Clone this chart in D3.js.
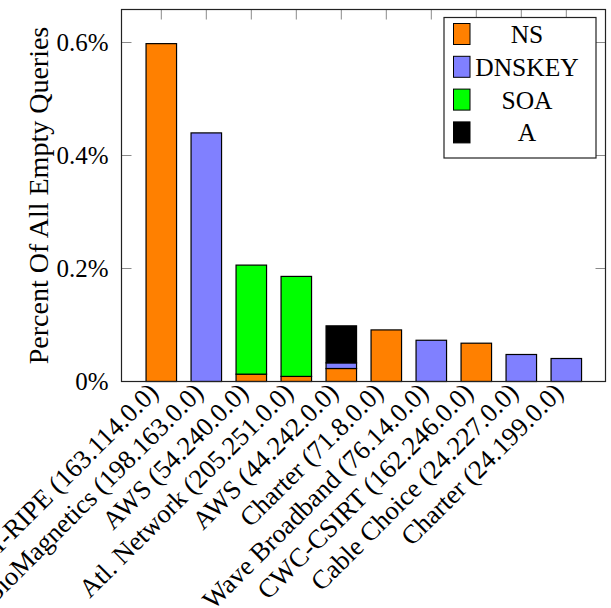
<!DOCTYPE html>
<html>
<head>
<meta charset="utf-8">
<script src="https://cdn.jsdelivr.net/npm/d3@7"></script>
<style>
  html, body { margin: 0; padding: 0; background: #fff; }
  svg { display: block; }
  text { font-family: "Liberation Serif", "Times New Roman", serif; fill: #000; }
</style>
</head>
<body>
<svg id="chart" width="611" height="608"></svg>
<script>
// Networks (x categories)
const categories = [
  "NET-RIPE (163.114.0.0)",
  "BioMagnetics (198.163.0.0)",
  "AWS (54.240.0.0)",
  "Atl. Network (205.251.0.0)",
  "AWS (44.242.0.0)",
  "Charter (71.8.0.0)",
  "Wave Broadband (76.14.0.0)",
  "CWC-CSIRT (162.246.0.0)",
  "Cable Choice (24.227.0.0)",
  "Charter (24.199.0.0)"
];

// Query types, stacked bottom to top
const seriesNames = ["NS", "DNSKEY", "SOA", "A"];
const seriesColors = ["#ff8000", "#8080ff", "#00ff00", "#000000"];

// Percent of all empty queries, per network
const nsValues     = [0.598, 0,     0.013, 0.009, 0.023, 0.0913, 0,     0.0678, 0,      0];
const dnskeyValues = [0,     0.44,  0,     0,     0.010, 0,      0.073, 0,      0.0478, 0.0407];
const soaValues    = [0,     0,     0.193, 0.177, 0,     0,      0,     0,      0,      0];
const aValues      = [0,     0,     0,     0,     0.0655, 0,     0,     0,      0,      0];

const yTicks = [0, 0.2, 0.4, 0.6];
const yTickLabels = ["0%", "0.2%", "0.4%", "0.6%"];
const yLabel = "Percent Of All Empty Queries";

const rows = categories.map((c, i) => ({
  name: c, idx: i,
  NS: nsValues[i], DNSKEY: dnskeyValues[i], SOA: soaValues[i], A: aValues[i]
}));

const svg = d3.select("#chart");
const frame = { left: 121.5, right: 605.5, top: 9.5, bottom: 381.5 };

const x = d3.scaleLinear().domain([0, categories.length - 1]).range([161.3, 566.3]);
const y = d3.scaleLinear().domain([0, 0.6]).range([frame.bottom, 42.5]);
const barW = 30.5;

const stack = d3.stack().keys(seriesNames);
const layers = stack(rows);

const color = d3.scaleOrdinal().domain(seriesNames).range(seriesColors);

// Bars
const g = svg.append("g");
layers.forEach(layer => {
  g.selectAll(null)
    .data(layer.filter(d => d[1] - d[0] > 0))
    .enter().append("rect")
    .attr("x", d => x(d.data.idx) - barW / 2)
    .attr("y", d => y(d[1]))
    .attr("width", barW)
    .attr("height", d => y(d[0]) - y(d[1]))
    .attr("fill", color(layer.key))
    .attr("stroke", "#000")
    .attr("stroke-width", 1.2);
});

// Ticks on all four sides, pointing inward
const tickLen = 10;
const tickG = svg.append("g").attr("stroke", "#8a8a8a").attr("stroke-width", 1);
yTicks.forEach(v => {
  tickG.append("line").attr("x1", frame.left).attr("x2", frame.left + tickLen)
    .attr("y1", y(v)).attr("y2", y(v));
  tickG.append("line").attr("x1", frame.right - tickLen).attr("x2", frame.right)
    .attr("y1", y(v)).attr("y2", y(v));
});
categories.forEach((c, i) => {
  tickG.append("line").attr("x1", x(i)).attr("x2", x(i))
    .attr("y1", frame.top).attr("y2", frame.top + tickLen);
});

// Frame
svg.append("rect")
  .attr("x", frame.left).attr("y", frame.top)
  .attr("width", frame.right - frame.left).attr("height", frame.bottom - frame.top)
  .attr("fill", "none").attr("stroke", "#222").attr("stroke-width", 1.2);

// Y tick labels
const yAxis = d3.axisLeft(y).tickValues(yTicks)
  .tickFormat((d, i) => yTickLabels[i]).tickSize(0).tickPadding(13);
const yg = svg.append("g").attr("transform", `translate(${frame.left},0)`).call(yAxis);
yg.select(".domain").remove();
yg.selectAll("text").style("font-family", "'Liberation Serif', serif").style("font-size", "25px");

// Y axis title
svg.append("text")
  .attr("transform", `translate(48,${(frame.top + frame.bottom) / 2}) rotate(-90)`)
  .attr("text-anchor", "middle")
  .style("font-size", "28px")
  .text(yLabel);

// X category labels, rotated 45°
categories.forEach((c, i) => {
  svg.append("text")
    .attr("transform", `translate(${x(i) - 8},${frame.bottom + 6}) rotate(-45)`)
    .attr("text-anchor", "end")
    .attr("dy", "0.35em")
    .style("font-size", "26.5px")
    .text(c);
});

// Legend
const lg = svg.append("g");
lg.append("rect").attr("x", 444).attr("y", 17.5).attr("width", 152).attr("height", 140.5)
  .attr("fill", "#fff").attr("stroke", "#222").attr("stroke-width", 1.2);
seriesNames.forEach((s, i) => {
  const cy = 34 + i * 32.8;
  lg.append("rect").attr("x", 453.5).attr("y", cy - 10.5).attr("width", 16.5).attr("height", 21)
    .attr("fill", seriesColors[i]).attr("stroke", "#000").attr("stroke-width", 1);
  lg.append("text").attr("x", 527).attr("y", cy).attr("dy", "0.35em")
    .attr("text-anchor", "middle").style("font-size", "25.5px").text(s);
});
</script>
</body>
</html>
